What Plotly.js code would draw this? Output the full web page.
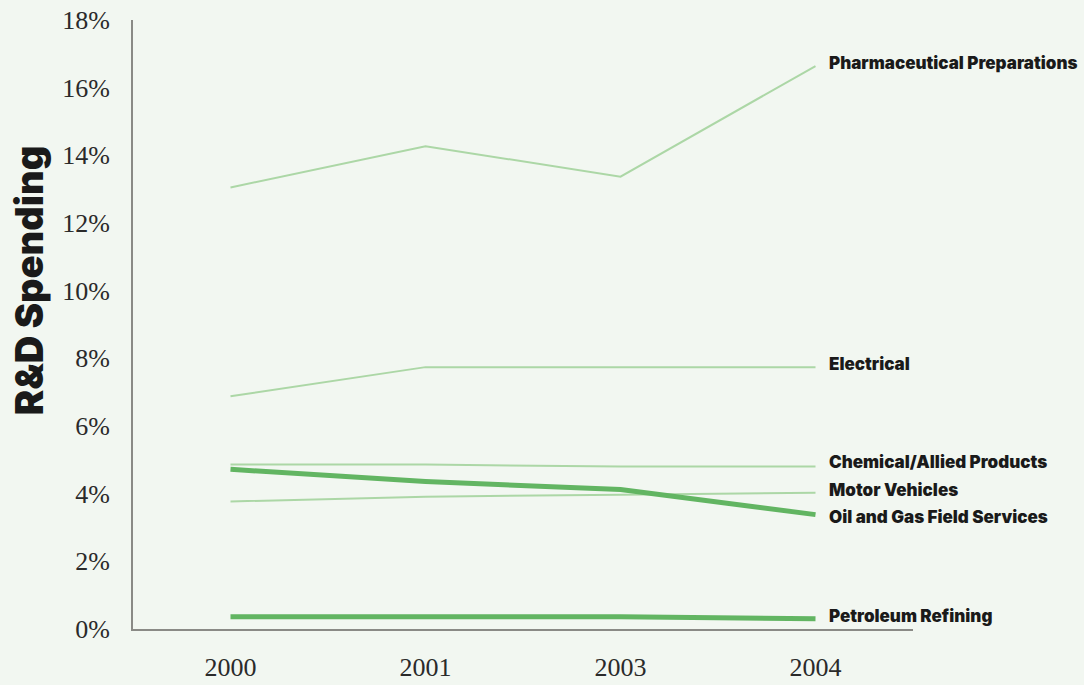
<!DOCTYPE html>
<html>
<head>
<meta charset="utf-8">
<script src="https://cdn.plot.ly/plotly-3.0.1.min.js"></script>
<style>
  html, body { margin: 0; padding: 0; background: #f2f7f1; }
  #chart { width: 1084px; height: 685px; }
</style>
</head>
<body>
<div id="chart"></div>
<script>
// R&D spending as a share of sales, by industry
const years = ['2000', '2001', '2003', '2004'];

const pharmaceutical = [13.05, 14.27, 13.37, 16.64];
const electrical     = [6.88, 7.74, 7.74, 7.74];
const chemical       = [4.86, 4.86, 4.80, 4.80];
const motorVehicles  = [3.77, 3.91, 3.97, 4.03];
const oilGasServices = [4.72, 4.36, 4.12, 3.38];
const petroleum      = [0.36, 0.36, 0.36, 0.30];

const yTickValues = [0, 2, 4, 6, 8, 10, 12, 14, 16, 18];
const yTickLabels = ['0%', '2%', '4%', '6%', '8%', '10%', '12%', '14%', '16%', '18%'];

const LIGHT = '#acd7a6';
const DARK = '#62b562';

const series = [
  { name: 'Pharmaceutical Preparations', y: pharmaceutical, color: LIGHT, width: 2 },
  { name: 'Electrical', y: electrical, color: LIGHT, width: 2 },
  { name: 'Chemical/Allied Products', y: chemical, color: LIGHT, width: 2 },
  { name: 'Motor Vehicles', y: motorVehicles, color: LIGHT, width: 2 },
  { name: 'Oil and Gas Field Services', y: oilGasServices, color: DARK, width: 5 },
  { name: 'Petroleum Refining', y: petroleum, color: DARK, width: 5 }
];

const traces = series.map(s => ({
  type: 'scatter',
  mode: 'lines',
  x: years,
  y: s.y,
  name: s.name,
  line: { color: s.color, width: s.width },
  hoverinfo: 'x+y+name'
}));

const labelFont = { family: 'Inter, "Open Sans", sans-serif', size: 17, color: '#1a1a1a', weight: 900 };

// end-of-line labels; the falling oil & gas line sits just under its label
const annotations = series.map(s => ({
  x: 3,
  y: s.y[s.y.length - 1],
  xref: 'x',
  yref: 'y',
  text: s.name,
  showarrow: false,
  xanchor: 'left',
  yanchor: 'middle',
  xshift: 11,
  yshift: s.name === 'Oil and Gas Field Services' ? -2 : (s.name === 'Chemical/Allied Products' ? 5 : 3),
  font: labelFont
}));

annotations.push({
  xref: 'paper',
  yref: 'paper',
  x: -0.134,
  y: 0.572,
  text: 'R&D Spending',
  textangle: -90,
  showarrow: false,
  xanchor: 'center',
  yanchor: 'middle',
  font: { family: 'Inter, "Open Sans", sans-serif', size: 38, color: '#1a1a1a', weight: 900 }
});

const tickFont = { family: '"Liberation Serif", "DejaVu Serif", serif', size: 26, color: '#2a2a2a' };

const layout = {
  width: 1084,
  height: 685,
  paper_bgcolor: '#f2f7f1',
  plot_bgcolor: '#f2f7f1',
  margin: { l: 133, r: 171, t: 20, b: 56 },
  showlegend: false,
  xaxis: {
    type: 'category',
    range: [-0.5, 3.5],
    showgrid: false,
    zeroline: false,
    showline: true,
    linecolor: '#8a8a86',
    linewidth: 2,
    ticks: '',
    tickfont: tickFont,
    ticklabelstandoff: 14,
    fixedrange: true
  },
  yaxis: {
    range: [0, 18],
    tickvals: yTickValues,
    ticktext: yTickLabels,
    showgrid: false,
    zeroline: false,
    showline: true,
    linecolor: '#8a8a86',
    linewidth: 2,
    ticks: '',
    tickfont: tickFont,
    ticklabelstandoff: 16,
    fixedrange: true
  },
  annotations: annotations
};

Plotly.newPlot('chart', traces, layout, { displayModeBar: false, responsive: false });
</script>
</body>
</html>
